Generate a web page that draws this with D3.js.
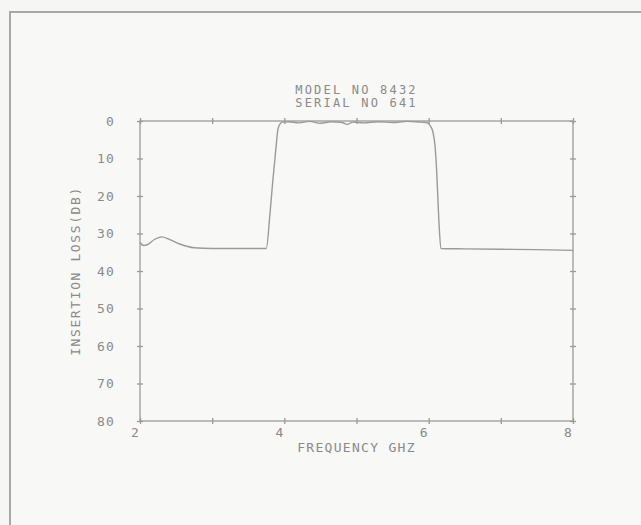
<!DOCTYPE html>
<html>
<head>
<meta charset="utf-8">
<script src="https://cdn.jsdelivr.net/npm/d3@7"></script>
<style>
  html, body { margin: 0; padding: 0; background: #f6f6f5; }
  svg text { font-family: "DejaVu Sans Mono", "Liberation Mono", monospace; fill: #8a8a8a; }
</style>
</head>
<body>
<div id="chart"></div>
<script>
// Title lines
const titleLines = ["MODEL NO 8432", "SERIAL NO 641"];

// Measured response: frequency (GHz) and insertion loss (dB)
const freq = [2.00, 2.05, 2.10, 2.20, 2.30, 2.40, 2.55, 2.75, 3.00, 3.40, 3.75,
  3.80, 3.84, 3.88, 3.91, 3.94, 3.97, 4.05, 4.20, 4.35, 4.50, 4.65, 4.80, 4.87,
  4.95, 5.10, 5.30, 5.50, 5.70, 5.90, 5.97, 6.02, 6.06, 6.09, 6.11, 6.14, 6.17,
  6.50, 7.00, 7.50, 8.00];
const loss = [32.4, 33.2, 33.0, 31.6, 30.9, 31.5, 32.8, 33.8, 34.0, 34.0, 34.0,
  25.0, 16.0, 8.0, 2.4, 0.8, 0.3, 0.2, 0.5, 0.1, 0.6, 0.2, 0.4, 0.9,
  0.3, 0.5, 0.2, 0.4, 0.1, 0.3, 0.4, 1.2, 3.0, 7.0, 13.0, 26.0, 34.0,
  34.1, 34.2, 34.3, 34.5];

// Axis ticks
const xTicks = [2, 3, 4, 5, 6, 7, 8];
const xLabels = [2, 4, 6, 8];
const yTicks = [0, 10, 20, 30, 40, 50, 60, 70, 80];

const W = 641, H = 525;
const margin = { top: 121, right: 68, bottom: 104, left: 140 };
const width = W - margin.left - margin.right;
const height = H - margin.top - margin.bottom;
const ink = "#9a9a9a";

const svg = d3.select("#chart")
  .append("svg")
    .attr("width", W)
    .attr("height", H);

// outer sheet frame (runs off the right and bottom edges)
svg.append("rect")
  .attr("x", 10).attr("y", 12)
  .attr("width", W + 20).attr("height", H + 20)
  .attr("fill", "#f8f8f7")
  .attr("stroke", "#a8a8a8")
  .attr("stroke-width", 2);

const g = svg.append("g")
  .attr("transform", `translate(${margin.left},${margin.top})`);

const x = d3.scaleLinear().domain([2, 8]).range([0, width]);
const y = d3.scaleLinear().domain([0, 80]).range([0, height]);

// frame of the plot
g.append("rect")
  .attr("width", width).attr("height", height)
  .attr("fill", "none")
  .attr("stroke", ink)
  .attr("stroke-width", 1.3);

// tick crosses on all four sides
function crossAxis(axisA, axisB, transform) {
  [axisA, axisB].forEach(a => {
    const ax = g.append("g")
      .attr("transform", transform)
      .call(a.tickSize(3).tickFormat(""));
    ax.select(".domain").remove();
    ax.selectAll("line").attr("stroke", ink).attr("stroke-width", 1.3);
  });
}
crossAxis(d3.axisBottom(x).tickValues(xTicks), d3.axisTop(x).tickValues(xTicks), `translate(0,${height})`);
crossAxis(d3.axisBottom(x).tickValues(xTicks), d3.axisTop(x).tickValues(xTicks), "translate(0,0)");
crossAxis(d3.axisLeft(y).tickValues(yTicks), d3.axisRight(y).tickValues(yTicks), "translate(0,0)");
crossAxis(d3.axisLeft(y).tickValues(yTicks), d3.axisRight(y).tickValues(yTicks), `translate(${width},0)`);

// tick labels
g.selectAll(".ylab")
  .data(yTicks)
  .enter()
  .append("text")
    .attr("class", "ylab")
    .attr("x", -25)
    .attr("y", d => y(d))
    .attr("dy", "0.36em")
    .attr("text-anchor", "end")
    .style("font-size", "13px")
    .style("letter-spacing", "1.2px")
    .text(d => d);

g.selectAll(".xlab")
  .data(xLabels)
  .enter()
  .append("text")
    .attr("class", "xlab")
    .attr("x", d => x(d) - 5)
    .attr("y", height + 16)
    .attr("text-anchor", "middle")
    .style("font-size", "13px")
    .text(d => d);

// axis titles
g.append("text")
  .attr("x", width / 2)
  .attr("y", height + 31)
  .attr("text-anchor", "middle")
  .style("font-size", "13px")
  .style("letter-spacing", "1.3px")
  .text("FREQUENCY GHZ");

g.append("text")
  .attr("transform", `translate(${-65},${height / 2}) rotate(-90)`)
  .attr("text-anchor", "middle")
  .attr("dy", "0.36em")
  .style("font-size", "13px")
  .style("letter-spacing", "1.6px")
  .text("INSERTION LOSS(DB)");

// title
g.selectAll(".title")
  .data(titleLines)
  .enter()
  .append("text")
    .attr("class", "title")
    .attr("x", width / 2)
    .attr("y", (d, i) => -27 + i * 13)
    .attr("text-anchor", "middle")
    .style("font-size", "12px")
    .style("letter-spacing", "2.2px")
    .text(d => d);

// response curve
const pts = freq.map((f, i) => [f, loss[i]]);
const line = d3.line()
  .x(d => x(d[0]))
  .y(d => y(d[1]))
  .curve(d3.curveMonotoneX);

g.append("path")
  .datum(pts)
  .attr("fill", "none")
  .attr("stroke", ink)
  .attr("stroke-width", 1.4)
  .attr("d", line);
</script>
</body>
</html>
